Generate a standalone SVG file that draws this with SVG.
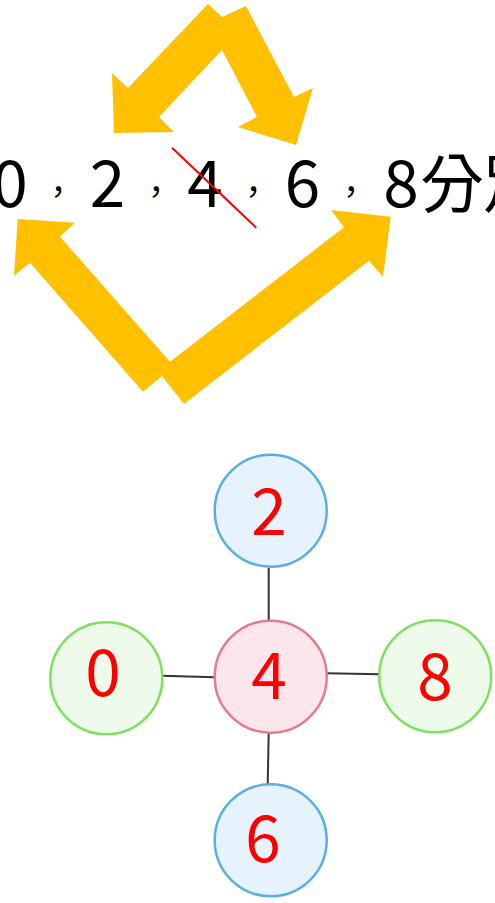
<svg xmlns="http://www.w3.org/2000/svg" width="495" height="903" viewBox="0 0 495 903">
<style>
.arrow{fill:#FFC000;}
.seq{font-family:"Noto Sans CJK TC","Noto Sans",sans-serif;font-size:64px;fill:#000;text-anchor:middle;}
.comma{font-family:"Noto Sans CJK TC",sans-serif;font-size:33px;fill:#000;text-anchor:middle;}
.num{font-family:"Noto Sans CJK TC","Noto Sans",sans-serif;font-size:64px;fill:#FF0000;text-anchor:middle;}
.blue{fill:#E6F3FC;stroke:#5AAEE6;stroke-width:2.5;}
.green{fill:#EEFBEA;stroke:#7DE060;stroke-width:2.5;}
.pink{fill:#FDE6EB;stroke:#E37B93;stroke-width:2.5;}
.edge{stroke:#333;stroke-width:2;fill:none;}
</style>
<rect width="495" height="903" fill="#fff"/>
<g id="arrows-top">
<polygon class="arrow" points="208,4 222,17 246,6 294,97 313,88 296,145 238,127 257,117 222,50 159,117 174,132 114,133 112,73 128,88"/>
</g>
<g id="arrows-bottom">
<polygon class="arrow" points="17.7,219 75,222.7 60,236.7 170,361.7 344,227.3 331,210 390.7,216.7 383,276.7 369,260.7 184,404 162,376 143,391.7 30,262.7 14,275.7"/>
</g>
<g id="sequence">
<text class="seq" x="10" y="207">0</text>
<text class="comma" x="58.3" y="204">，</text>
<text class="seq" x="107.5" y="207">2</text>
<text class="comma" x="156" y="204">，</text>
<text class="seq" x="205" y="207">4</text>
<text class="comma" x="253.3" y="204">，</text>
<text class="seq" x="302.5" y="207">6</text>
<text class="comma" x="351" y="204">，</text>
<text class="seq" x="401" y="207">8</text>
<text class="seq" x="452" y="207">分</text>
<text class="seq" x="515" y="207">別</text>
</g>
<g id="strike">
<line x1="172" y1="147.7" x2="256.3" y2="227.7" stroke="#FF0000" stroke-width="2"/>
</g>
<g id="connectors">
<line class="edge" x1="268.7" y1="568" x2="268.7" y2="620"/>
<line class="edge" x1="161.7" y1="675.7" x2="215" y2="677.3"/>
<line class="edge" x1="326.7" y1="673.3" x2="380" y2="674.3"/>
<line class="edge" x1="268.7" y1="732.7" x2="267.7" y2="785"/>
</g>
<g id="node-2">
<circle class="blue" cx="270.7" cy="510.7" r="56"/>
<text class="num" x="269" y="535">2</text>
</g>
<g id="node-4">
<circle class="pink" cx="270.7" cy="676.7" r="56"/>
<text class="num" x="269" y="699">4</text>
</g>
<g id="node-0">
<circle class="green" cx="106.3" cy="678.3" r="56"/>
<text class="num" x="103" y="696">0</text>
</g>
<g id="node-8">
<circle class="green" cx="435.2" cy="676.2" r="56"/>
<text class="num" x="435" y="700">8</text>
</g>
<g id="node-6">
<circle class="blue" cx="270.7" cy="840.3" r="56"/>
<text class="num" x="263" y="862">6</text>
</g>
</svg>
